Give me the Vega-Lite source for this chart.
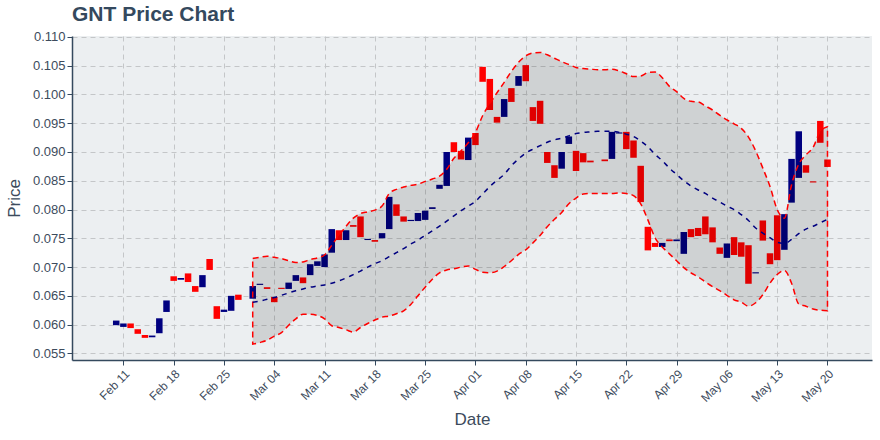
{
  "$schema": "https://vega.github.io/schema/vega-lite/v6.json",
  "width": 800,
  "height": 324,
  "autosize": {"type": "none"},
  "padding": {"left": 72, "top": 36, "right": 8, "bottom": 80},
  "background": "#ffffff",
  "title": {
    "text": "GNT Price Chart",
    "anchor": "start",
    "frame": "group",
    "font": "Liberation Sans",
    "fontSize": 21,
    "fontWeight": "bold",
    "color": "#34495e",
    "baseline": "alphabetic",
    "offset": 12,
    "dy": 23
  },
  "config": {
    "view": {"fill": "#eceff1", "stroke": null},
    "axis": {
      "labelFont": "Liberation Sans",
      "titleFont": "Liberation Sans",
      "labelColor": "#3d4b5c",
      "titleColor": "#3d4b5c",
      "titleFontWeight": "normal",
      "titleFontSize": 17,
      "gridColor": "#c4c6c8",
      "gridDash": [5, 4],
      "gridWidth": 1,
      "domainColor": "#34495e",
      "domainWidth": 1.5,
      "tickColor": "#34495e",
      "tickSize": 5,
      "labelOverlap": false
    }
  },
  "datasets": {
    "candles": [
      {"date": "2019-02-10T00:00:00", "open": 0.0599, "close": 0.0607},
      {"date": "2019-02-11T00:00:00", "open": 0.0596, "close": 0.0602},
      {"date": "2019-02-12T00:00:00", "open": 0.0602, "close": 0.0594},
      {"date": "2019-02-13T00:00:00", "open": 0.0592, "close": 0.0584},
      {"date": "2019-02-14T00:00:00", "open": 0.0582, "close": 0.0577},
      {"date": "2019-02-15T00:00:00", "open": 0.0578, "close": 0.0581},
      {"date": "2019-02-16T00:00:00", "open": 0.0585, "close": 0.0611},
      {"date": "2019-02-17T00:00:00", "open": 0.0622, "close": 0.0642},
      {"date": "2019-02-18T00:00:00", "open": 0.0684, "close": 0.0676},
      {"date": "2019-02-19T00:00:00", "open": 0.0678, "close": 0.0681},
      {"date": "2019-02-20T00:00:00", "open": 0.0689, "close": 0.0674},
      {"date": "2019-02-21T00:00:00", "open": 0.0667, "close": 0.0657},
      {"date": "2019-02-22T00:00:00", "open": 0.0665, "close": 0.0686},
      {"date": "2019-02-23T00:00:00", "open": 0.0714, "close": 0.0695},
      {"date": "2019-02-24T00:00:00", "open": 0.0632, "close": 0.0610},
      {"date": "2019-02-25T00:00:00", "open": 0.0622, "close": 0.0626},
      {"date": "2019-02-26T00:00:00", "open": 0.0624, "close": 0.0650},
      {"date": "2019-02-27T00:00:00", "open": 0.0652, "close": 0.0643},
      {"date": "2019-03-01T00:00:00", "open": 0.0645, "close": 0.0667},
      {"date": "2019-03-02T00:00:00", "open": 0.0669, "close": 0.0671},
      {"date": "2019-03-03T00:00:00", "open": 0.0665, "close": 0.0662},
      {"date": "2019-03-04T00:00:00", "open": 0.0648, "close": 0.0639},
      {"date": "2019-03-05T00:00:00", "open": 0.0664, "close": 0.0662},
      {"date": "2019-03-06T00:00:00", "open": 0.0662, "close": 0.0673},
      {"date": "2019-03-07T00:00:00", "open": 0.0676, "close": 0.0686},
      {"date": "2019-03-08T00:00:00", "open": 0.0682, "close": 0.0672},
      {"date": "2019-03-09T00:00:00", "open": 0.0686, "close": 0.0705},
      {"date": "2019-03-10T00:00:00", "open": 0.0702, "close": 0.0710},
      {"date": "2019-03-11T00:00:00", "open": 0.0700, "close": 0.0722},
      {"date": "2019-03-12T00:00:00", "open": 0.0725, "close": 0.0766},
      {"date": "2019-03-13T00:00:00", "open": 0.0764, "close": 0.0747},
      {"date": "2019-03-14T00:00:00", "open": 0.0747, "close": 0.0764},
      {"date": "2019-03-15T00:00:00", "open": 0.0773, "close": 0.0770},
      {"date": "2019-03-16T00:00:00", "open": 0.0788, "close": 0.0752},
      {"date": "2019-03-17T00:00:00", "open": 0.0747, "close": 0.0749},
      {"date": "2019-03-18T00:00:00", "open": 0.0747, "close": 0.0744},
      {"date": "2019-03-19T00:00:00", "open": 0.0750, "close": 0.0759},
      {"date": "2019-03-20T00:00:00", "open": 0.0766, "close": 0.0822},
      {"date": "2019-03-21T00:00:00", "open": 0.0809, "close": 0.0789},
      {"date": "2019-03-22T00:00:00", "open": 0.0788, "close": 0.0779},
      {"date": "2019-03-23T00:00:00", "open": 0.0780, "close": 0.0782},
      {"date": "2019-03-24T00:00:00", "open": 0.0780, "close": 0.0794},
      {"date": "2019-03-25T00:00:00", "open": 0.0782, "close": 0.0798},
      {"date": "2019-03-26T00:00:00", "open": 0.0801, "close": 0.0804},
      {"date": "2019-03-27T00:00:00", "open": 0.0836, "close": 0.0843},
      {"date": "2019-03-28T00:00:00", "open": 0.0841, "close": 0.0900},
      {"date": "2019-03-29T00:00:00", "open": 0.0917, "close": 0.0900},
      {"date": "2019-03-30T00:00:00", "open": 0.0902, "close": 0.0887},
      {"date": "2019-03-31T00:00:00", "open": 0.0886, "close": 0.0925},
      {"date": "2019-04-01T00:00:00", "open": 0.0933, "close": 0.0912},
      {"date": "2019-04-02T00:00:00", "open": 0.1048, "close": 0.1022},
      {"date": "2019-04-03T00:00:00", "open": 0.1027, "close": 0.0973},
      {"date": "2019-04-04T00:00:00", "open": 0.0961, "close": 0.0951},
      {"date": "2019-04-05T00:00:00", "open": 0.0961, "close": 0.0992},
      {"date": "2019-04-06T00:00:00", "open": 0.1011, "close": 0.0987},
      {"date": "2019-04-07T00:00:00", "open": 0.1015, "close": 0.1032},
      {"date": "2019-04-08T00:00:00", "open": 0.1051, "close": 0.1023},
      {"date": "2019-04-09T00:00:00", "open": 0.0978, "close": 0.0954},
      {"date": "2019-04-10T00:00:00", "open": 0.0989, "close": 0.0949},
      {"date": "2019-04-11T00:00:00", "open": 0.0900, "close": 0.0881},
      {"date": "2019-04-12T00:00:00", "open": 0.0877, "close": 0.0855},
      {"date": "2019-04-13T00:00:00", "open": 0.0871, "close": 0.0900},
      {"date": "2019-04-14T00:00:00", "open": 0.0914, "close": 0.0927},
      {"date": "2019-04-15T00:00:00", "open": 0.0902, "close": 0.0867},
      {"date": "2019-04-16T00:00:00", "open": 0.0898, "close": 0.0882},
      {"date": "2019-04-17T00:00:00", "open": 0.0885, "close": 0.0882},
      {"date": "2019-04-19T00:00:00", "open": 0.0887, "close": 0.0884},
      {"date": "2019-04-20T00:00:00", "open": 0.0888, "close": 0.0935},
      {"date": "2019-04-21T00:00:00", "open": 0.0932, "close": 0.0934},
      {"date": "2019-04-22T00:00:00", "open": 0.0935, "close": 0.0905},
      {"date": "2019-04-23T00:00:00", "open": 0.0920, "close": 0.0890},
      {"date": "2019-04-24T00:00:00", "open": 0.0876, "close": 0.0813},
      {"date": "2019-04-25T00:00:00", "open": 0.0770, "close": 0.0729},
      {"date": "2019-04-26T00:00:00", "open": 0.0742, "close": 0.0735},
      {"date": "2019-04-27T00:00:00", "open": 0.0735, "close": 0.0742},
      {"date": "2019-04-28T00:00:00", "open": 0.0748, "close": 0.0745},
      {"date": "2019-04-29T00:00:00", "open": 0.0745, "close": 0.0748},
      {"date": "2019-04-30T00:00:00", "open": 0.0723, "close": 0.0761},
      {"date": "2019-05-01T00:00:00", "open": 0.0766, "close": 0.0752},
      {"date": "2019-05-02T00:00:00", "open": 0.0768, "close": 0.0754},
      {"date": "2019-05-03T00:00:00", "open": 0.0788, "close": 0.0757},
      {"date": "2019-05-04T00:00:00", "open": 0.0769, "close": 0.0743},
      {"date": "2019-05-05T00:00:00", "open": 0.0734, "close": 0.0723},
      {"date": "2019-05-06T00:00:00", "open": 0.0716, "close": 0.0741},
      {"date": "2019-05-07T00:00:00", "open": 0.0752, "close": 0.0721},
      {"date": "2019-05-08T00:00:00", "open": 0.0743, "close": 0.0718},
      {"date": "2019-05-09T00:00:00", "open": 0.0738, "close": 0.0671},
      {"date": "2019-05-10T00:00:00", "open": 0.0689, "close": 0.0691},
      {"date": "2019-05-11T00:00:00", "open": 0.0781, "close": 0.0746},
      {"date": "2019-05-12T00:00:00", "open": 0.0724, "close": 0.0705},
      {"date": "2019-05-13T00:00:00", "open": 0.0790, "close": 0.0712},
      {"date": "2019-05-14T00:00:00", "open": 0.0730, "close": 0.0792},
      {"date": "2019-05-15T00:00:00", "open": 0.0812, "close": 0.0888},
      {"date": "2019-05-16T00:00:00", "open": 0.0855, "close": 0.0936},
      {"date": "2019-05-17T00:00:00", "open": 0.0877, "close": 0.0864},
      {"date": "2019-05-18T00:00:00", "open": 0.0849, "close": 0.0847},
      {"date": "2019-05-19T00:00:00", "open": 0.0954, "close": 0.0916},
      {"date": "2019-05-20T00:00:00", "open": 0.0887, "close": 0.0874}
    ],
    "bands": [
      {"date": "2019-03-01T00:00:00", "upper": 0.0715, "mid": 0.0639, "lower": 0.0566},
      {"date": "2019-03-02T00:00:00", "upper": 0.0717, "mid": 0.0641, "lower": 0.0569},
      {"date": "2019-03-03T00:00:00", "upper": 0.0719, "mid": 0.0644, "lower": 0.0573},
      {"date": "2019-03-04T00:00:00", "upper": 0.0717, "mid": 0.0647, "lower": 0.0580},
      {"date": "2019-03-05T00:00:00", "upper": 0.0715, "mid": 0.0651, "lower": 0.0586},
      {"date": "2019-03-06T00:00:00", "upper": 0.0711, "mid": 0.0655, "lower": 0.0599},
      {"date": "2019-03-07T00:00:00", "upper": 0.0708, "mid": 0.0659, "lower": 0.0610},
      {"date": "2019-03-08T00:00:00", "upper": 0.0709, "mid": 0.0662, "lower": 0.0618},
      {"date": "2019-03-09T00:00:00", "upper": 0.0713, "mid": 0.0665, "lower": 0.0618},
      {"date": "2019-03-10T00:00:00", "upper": 0.0716, "mid": 0.0667, "lower": 0.0616},
      {"date": "2019-03-11T00:00:00", "upper": 0.0721, "mid": 0.0669, "lower": 0.0610},
      {"date": "2019-03-12T00:00:00", "upper": 0.0738, "mid": 0.0672, "lower": 0.0598},
      {"date": "2019-03-13T00:00:00", "upper": 0.0755, "mid": 0.0676, "lower": 0.0595},
      {"date": "2019-03-14T00:00:00", "upper": 0.0771, "mid": 0.0681, "lower": 0.0591},
      {"date": "2019-03-15T00:00:00", "upper": 0.0785, "mid": 0.0687, "lower": 0.0587},
      {"date": "2019-03-16T00:00:00", "upper": 0.0793, "mid": 0.0693, "lower": 0.0595},
      {"date": "2019-03-17T00:00:00", "upper": 0.0796, "mid": 0.0700, "lower": 0.0602},
      {"date": "2019-03-18T00:00:00", "upper": 0.0799, "mid": 0.0706, "lower": 0.0608},
      {"date": "2019-03-19T00:00:00", "upper": 0.0806, "mid": 0.0711, "lower": 0.0613},
      {"date": "2019-03-20T00:00:00", "upper": 0.0828, "mid": 0.0718, "lower": 0.0615},
      {"date": "2019-03-21T00:00:00", "upper": 0.0835, "mid": 0.0725, "lower": 0.0619},
      {"date": "2019-03-22T00:00:00", "upper": 0.0839, "mid": 0.0732, "lower": 0.0624},
      {"date": "2019-03-23T00:00:00", "upper": 0.0842, "mid": 0.0740, "lower": 0.0635},
      {"date": "2019-03-24T00:00:00", "upper": 0.0844, "mid": 0.0747, "lower": 0.0650},
      {"date": "2019-03-25T00:00:00", "upper": 0.0849, "mid": 0.0755, "lower": 0.0665},
      {"date": "2019-03-26T00:00:00", "upper": 0.0853, "mid": 0.0763, "lower": 0.0679},
      {"date": "2019-03-27T00:00:00", "upper": 0.0858, "mid": 0.0771, "lower": 0.0690},
      {"date": "2019-03-28T00:00:00", "upper": 0.0870, "mid": 0.0780, "lower": 0.0695},
      {"date": "2019-03-29T00:00:00", "upper": 0.0889, "mid": 0.0789, "lower": 0.0697},
      {"date": "2019-03-30T00:00:00", "upper": 0.0902, "mid": 0.0798, "lower": 0.0700},
      {"date": "2019-03-31T00:00:00", "upper": 0.0916, "mid": 0.0806, "lower": 0.0702},
      {"date": "2019-04-01T00:00:00", "upper": 0.0934, "mid": 0.0814, "lower": 0.0696},
      {"date": "2019-04-02T00:00:00", "upper": 0.0963, "mid": 0.0827, "lower": 0.0691},
      {"date": "2019-04-03T00:00:00", "upper": 0.0984, "mid": 0.0840, "lower": 0.0690},
      {"date": "2019-04-04T00:00:00", "upper": 0.1003, "mid": 0.0851, "lower": 0.0693},
      {"date": "2019-04-05T00:00:00", "upper": 0.1021, "mid": 0.0861, "lower": 0.0701},
      {"date": "2019-04-06T00:00:00", "upper": 0.1040, "mid": 0.0876, "lower": 0.0711},
      {"date": "2019-04-07T00:00:00", "upper": 0.1056, "mid": 0.0888, "lower": 0.0722},
      {"date": "2019-04-08T00:00:00", "upper": 0.1067, "mid": 0.0898, "lower": 0.0730},
      {"date": "2019-04-09T00:00:00", "upper": 0.1072, "mid": 0.0905, "lower": 0.0742},
      {"date": "2019-04-10T00:00:00", "upper": 0.1073, "mid": 0.0911, "lower": 0.0755},
      {"date": "2019-04-11T00:00:00", "upper": 0.1069, "mid": 0.0917, "lower": 0.0770},
      {"date": "2019-04-12T00:00:00", "upper": 0.1063, "mid": 0.0921, "lower": 0.0783},
      {"date": "2019-04-13T00:00:00", "upper": 0.1057, "mid": 0.0924, "lower": 0.0795},
      {"date": "2019-04-14T00:00:00", "upper": 0.1052, "mid": 0.0928, "lower": 0.0810},
      {"date": "2019-04-15T00:00:00", "upper": 0.1047, "mid": 0.0932, "lower": 0.0820},
      {"date": "2019-04-16T00:00:00", "upper": 0.1045, "mid": 0.0934, "lower": 0.0827},
      {"date": "2019-04-17T00:00:00", "upper": 0.1044, "mid": 0.0935, "lower": 0.0828},
      {"date": "2019-04-18T00:00:00", "upper": 0.1043, "mid": 0.0936, "lower": 0.0828},
      {"date": "2019-04-19T00:00:00", "upper": 0.1043, "mid": 0.0936, "lower": 0.0828},
      {"date": "2019-04-20T00:00:00", "upper": 0.1044, "mid": 0.0936, "lower": 0.0828},
      {"date": "2019-04-21T00:00:00", "upper": 0.1041, "mid": 0.0934, "lower": 0.0829},
      {"date": "2019-04-22T00:00:00", "upper": 0.1036, "mid": 0.0931, "lower": 0.0828},
      {"date": "2019-04-23T00:00:00", "upper": 0.1031, "mid": 0.0927, "lower": 0.0824},
      {"date": "2019-04-24T00:00:00", "upper": 0.1032, "mid": 0.0919, "lower": 0.0810},
      {"date": "2019-04-25T00:00:00", "upper": 0.1038, "mid": 0.0909, "lower": 0.0782},
      {"date": "2019-04-26T00:00:00", "upper": 0.1039, "mid": 0.0896, "lower": 0.0751},
      {"date": "2019-04-27T00:00:00", "upper": 0.1029, "mid": 0.0885, "lower": 0.0735},
      {"date": "2019-04-28T00:00:00", "upper": 0.1014, "mid": 0.0872, "lower": 0.0723},
      {"date": "2019-04-29T00:00:00", "upper": 0.1005, "mid": 0.0861, "lower": 0.0711},
      {"date": "2019-04-30T00:00:00", "upper": 0.0993, "mid": 0.0850, "lower": 0.0699},
      {"date": "2019-05-01T00:00:00", "upper": 0.0988, "mid": 0.0841, "lower": 0.0690},
      {"date": "2019-05-02T00:00:00", "upper": 0.0987, "mid": 0.0834, "lower": 0.0683},
      {"date": "2019-05-03T00:00:00", "upper": 0.0980, "mid": 0.0828, "lower": 0.0674},
      {"date": "2019-05-04T00:00:00", "upper": 0.0973, "mid": 0.0820, "lower": 0.0666},
      {"date": "2019-05-05T00:00:00", "upper": 0.0964, "mid": 0.0813, "lower": 0.0659},
      {"date": "2019-05-06T00:00:00", "upper": 0.0956, "mid": 0.0806, "lower": 0.0651},
      {"date": "2019-05-07T00:00:00", "upper": 0.0949, "mid": 0.0800, "lower": 0.0643},
      {"date": "2019-05-08T00:00:00", "upper": 0.0941, "mid": 0.0791, "lower": 0.0639},
      {"date": "2019-05-09T00:00:00", "upper": 0.0926, "mid": 0.0781, "lower": 0.0632},
      {"date": "2019-05-10T00:00:00", "upper": 0.0902, "mid": 0.0768, "lower": 0.0638},
      {"date": "2019-05-11T00:00:00", "upper": 0.0872, "mid": 0.0759, "lower": 0.0652},
      {"date": "2019-05-12T00:00:00", "upper": 0.0840, "mid": 0.0751, "lower": 0.0672},
      {"date": "2019-05-13T00:00:00", "upper": 0.0800, "mid": 0.0743, "lower": 0.0687},
      {"date": "2019-05-14T00:00:00", "upper": 0.0785, "mid": 0.0741, "lower": 0.0694},
      {"date": "2019-05-15T00:00:00", "upper": 0.0843, "mid": 0.0748, "lower": 0.0672},
      {"date": "2019-05-16T00:00:00", "upper": 0.0879, "mid": 0.0758, "lower": 0.0636},
      {"date": "2019-05-17T00:00:00", "upper": 0.0895, "mid": 0.0766, "lower": 0.0632},
      {"date": "2019-05-18T00:00:00", "upper": 0.0908, "mid": 0.0771, "lower": 0.0627},
      {"date": "2019-05-19T00:00:00", "upper": 0.0936, "mid": 0.0777, "lower": 0.0625},
      {"date": "2019-05-20T00:00:00", "upper": 0.0944, "mid": 0.0783, "lower": 0.0624}
    ]
  },
  "encoding": {
    "x": {
      "field": "date",
      "type": "temporal",
      "title": "Date",
      "scale": {
        "domain": [
          {"year": 2019, "month": "feb", "date": 4, "hours": 13},
          {"year": 2019, "month": "may", "date": 25, "hours": 12}
        ]
      },
      "axis": {
        "format": "%b %d",
        "labelAngle": -45,
        "labelFontSize": 12,
        "labelPadding": 3,
        "titlePadding": 8,
        "grid": true,
        "values": [
          {"year": 2019, "month": "feb", "date": 11},
          {"year": 2019, "month": "feb", "date": 18},
          {"year": 2019, "month": "feb", "date": 25},
          {"year": 2019, "month": "mar", "date": 4},
          {"year": 2019, "month": "mar", "date": 11},
          {"year": 2019, "month": "mar", "date": 18},
          {"year": 2019, "month": "mar", "date": 25},
          {"year": 2019, "month": "apr", "date": 1},
          {"year": 2019, "month": "apr", "date": 8},
          {"year": 2019, "month": "apr", "date": 15},
          {"year": 2019, "month": "apr", "date": 22},
          {"year": 2019, "month": "apr", "date": 29},
          {"year": 2019, "month": "may", "date": 6},
          {"year": 2019, "month": "may", "date": 13},
          {"year": 2019, "month": "may", "date": 20}
        ]
      }
    }
  },
  "layer": [
    {
      "data": {"name": "candles"},
      "mark": {"type": "bar", "width": 6.5},
      "encoding": {
        "y": {
          "field": "open",
          "type": "quantitative",
          "title": "Price",
          "scale": {"domain": [0.05385, 0.11016], "nice": false, "zero": false},
          "axis": {
            "format": ".3f",
            "values": [0.055, 0.06, 0.065, 0.07, 0.075, 0.08, 0.085, 0.09, 0.095, 0.1, 0.105, 0.11],
            "labelFontSize": 13,
            "labelOverlap": false,
            "titlePadding": 9,
            "grid": true
          }
        },
        "y2": {"field": "close"},
        "color": {
          "condition": {"test": "datum.close >= datum.open", "value": "#000080"},
          "value": "#ff0000"
        }
      }
    },
    {
      "data": {"name": "bands"},
      "mark": {
        "type": "area",
        "interpolate": "monotone",
        "fill": "#000000",
        "fillOpacity": 0.12,
        "stroke": "#ff0000",
        "strokeDash": [6, 4],
        "strokeWidth": 1.5
      },
      "encoding": {
        "y": {
          "field": "upper",
          "type": "quantitative",
          "title": "Price",
          "scale": {"domain": [0.05385, 0.11016], "nice": false, "zero": false},
          "axis": {
            "format": ".3f",
            "values": [0.055, 0.06, 0.065, 0.07, 0.075, 0.08, 0.085, 0.09, 0.095, 0.1, 0.105, 0.11],
            "labelFontSize": 13,
            "labelOverlap": false,
            "titlePadding": 9,
            "grid": true
          }
        },
        "y2": {"field": "lower"}
      }
    },
    {
      "data": {"name": "bands"},
      "mark": {
        "type": "line",
        "interpolate": "monotone",
        "color": "#000080",
        "strokeDash": [5, 5],
        "strokeWidth": 1.5
      },
      "encoding": {
        "y": {
          "field": "mid",
          "type": "quantitative",
          "title": "Price",
          "scale": {"domain": [0.05385, 0.11016], "nice": false, "zero": false},
          "axis": {
            "format": ".3f",
            "values": [0.055, 0.06, 0.065, 0.07, 0.075, 0.08, 0.085, 0.09, 0.095, 0.1, 0.105, 0.11],
            "labelFontSize": 13,
            "labelOverlap": false,
            "titlePadding": 9,
            "grid": true
          }
        }
      }
    }
  ]
}
